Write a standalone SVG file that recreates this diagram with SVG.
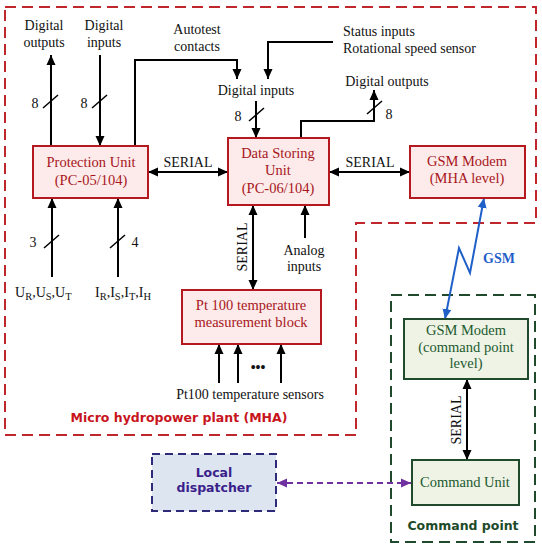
<svg xmlns="http://www.w3.org/2000/svg" width="542" height="550" viewBox="0 0 542 550">
<style>
.t{font-family:"Liberation Serif","Times New Roman",serif;font-size:14px;fill:#111}
.tb{font-family:"Liberation Serif",serif;font-size:14.5px;fill:#a8161c;text-anchor:middle}
.tg{font-family:"Liberation Serif",serif;font-size:14.5px;fill:#1d5a2e;text-anchor:middle}
.bold{font-family:"DejaVu Sans",Verdana,sans-serif;font-weight:bold;font-size:12.5px}
.rbox{fill:#fcebea;stroke:#b5191f;stroke-width:2}
.gbox{fill:#eef3e6;stroke:#1f4a2c;stroke-width:2}
.ln{fill:none;stroke:#000;stroke-width:2}
.sl{stroke:#000;stroke-width:1.5}
.m{text-anchor:middle}
</style>
<defs>
<marker id="ah" viewBox="0 0 10 10" refX="10" refY="5" markerWidth="10" markerHeight="10" orient="auto-start-reverse" markerUnits="userSpaceOnUse"><path d="M0,0.5 L10,5 L0,9.5 z" fill="#000"/></marker>
<marker id="ahb" viewBox="0 0 10 10" refX="10" refY="5" markerWidth="10" markerHeight="10" orient="auto-start-reverse" markerUnits="userSpaceOnUse"><path d="M0,0.5 L10,5 L0,9.5 z" fill="#1f5fc8"/></marker>
<marker id="ahp" viewBox="0 0 10 10" refX="10" refY="5" markerWidth="10" markerHeight="10" orient="auto-start-reverse" markerUnits="userSpaceOnUse"><path d="M0,0.5 L10,5 L0,9.5 z" fill="#7030a0"/></marker>
</defs>

<g id="mha-boundary">
<path d="M5,7 H536 V223 H356 V435 H5 Z" fill="none" stroke="#c0272d" stroke-width="2" stroke-dasharray="11,6"/>
<text x="179" y="422" class="bold m" fill="#c8141c">Micro hydropower plant (MHA)</text>
</g>

<g id="command-point-boundary">
<rect x="391" y="295" width="144" height="247" fill="none" stroke="#1f4a2c" stroke-width="2" stroke-dasharray="11,6"/>
<text x="463" y="530" class="bold m" fill="#1d4a28">Command point</text>
</g>

<g id="connectors">
<line x1="51" y1="146" x2="51" y2="55" class="ln" marker-end="url(#ah)"/>
<line x1="100" y1="55" x2="100" y2="146" class="ln" marker-end="url(#ah)"/>
<line x1="43" y1="108" x2="58" y2="95" class="sl"/>
<line x1="92" y1="108" x2="107" y2="95" class="sl"/>
<text x="35" y="108" class="t m">8</text>
<text x="84" y="108" class="t m">8</text>
<polyline points="135,146 135,60 237,60 237,79" class="ln" marker-end="url(#ah)"/>
<polyline points="333,42 268,42 268,79" class="ln" marker-end="url(#ah)"/>
<line x1="256" y1="101" x2="256" y2="138" class="ln" marker-end="url(#ah)"/>
<line x1="249" y1="121" x2="264" y2="108" class="sl"/>
<text x="238" y="121" class="t m">8</text>
<polyline points="301,138 301,121 374,121 374,90" class="ln" marker-end="url(#ah)"/>
<line x1="367" y1="114" x2="382" y2="101" class="sl"/>
<text x="389" y="119" class="t m">8</text>
<line x1="148" y1="172" x2="228" y2="172" class="ln" marker-start="url(#ah)" marker-end="url(#ah)"/>
<text x="188" y="167" class="t m">SERIAL</text>
<line x1="329" y1="172" x2="410" y2="172" class="ln" marker-start="url(#ah)" marker-end="url(#ah)"/>
<text x="370" y="167" class="t m">SERIAL</text>
<line x1="253" y1="205" x2="253" y2="290" class="ln" marker-start="url(#ah)" marker-end="url(#ah)"/>
<text transform="translate(247,247) rotate(-90)" class="t m">SERIAL</text>
<line x1="305" y1="238" x2="305" y2="205" class="ln" marker-end="url(#ah)"/>
<line x1="52" y1="277" x2="52" y2="198" class="ln" marker-end="url(#ah)"/>
<line x1="118" y1="277" x2="118" y2="198" class="ln" marker-end="url(#ah)"/>
<line x1="44" y1="248" x2="59" y2="235" class="sl"/>
<line x1="110" y1="248" x2="125" y2="235" class="sl"/>
<text x="33" y="247" class="t m">3</text>
<text x="135" y="247" class="t m">4</text>
<line x1="219" y1="383" x2="219" y2="344" class="ln" marker-end="url(#ah)"/>
<line x1="238" y1="383" x2="238" y2="344" class="ln" marker-end="url(#ah)"/>
<line x1="281" y1="383" x2="281" y2="344" class="ln" marker-end="url(#ah)"/>
<text x="258" y="372" class="t m" font-weight="bold">•••</text>
<polyline points="484,198 470,273 459,248 445,319" fill="none" stroke="#1f5fc8" stroke-width="2" marker-start="url(#ahb)" marker-end="url(#ahb)"/>
<text x="499" y="263" class="m" font-family="'Liberation Serif',serif" font-weight="bold" font-size="14" fill="#1f5fc8">GSM</text>
<line x1="467" y1="379" x2="467" y2="460" class="ln" marker-start="url(#ah)" marker-end="url(#ah)"/>
<text transform="translate(461,420) rotate(-90)" class="t m">SERIAL</text>
<line x1="277" y1="483" x2="411" y2="483" stroke="#7030a0" stroke-width="2" stroke-dasharray="6,4" marker-start="url(#ahp)" marker-end="url(#ahp)"/>
</g>

<g id="labels">
<text x="44" y="30" class="t m">Digital</text>
<text x="44" y="47" class="t m">outputs</text>
<text x="104" y="30" class="t m">Digital</text>
<text x="104" y="47" class="t m">inputs</text>
<text x="197" y="34" class="t m">Autotest</text>
<text x="197" y="51" class="t m">contacts</text>
<text x="343" y="36" class="t">Status inputs</text>
<text x="343" y="53" class="t">Rotational speed sensor</text>
<text x="256" y="95" class="t m">Digital inputs</text>
<text x="387" y="86" class="t m">Digital outputs</text>
<text x="304" y="255" class="t m">Analog</text>
<text x="304" y="271" class="t m">inputs</text>
<text x="15" y="297" class="t" font-size="15">U<tspan font-size="10.5" dy="3">R</tspan><tspan dy="-3">,U</tspan><tspan font-size="10.5" dy="3">S</tspan><tspan dy="-3">,U</tspan><tspan font-size="10.5" dy="3">T</tspan></text>
<text x="95" y="297" class="t" font-size="15">I<tspan font-size="10.5" dy="3">R</tspan><tspan dy="-3">,I</tspan><tspan font-size="10.5" dy="3">S</tspan><tspan dy="-3">,I</tspan><tspan font-size="10.5" dy="3">T</tspan><tspan dy="-3">,I</tspan><tspan font-size="10.5" dy="3">H</tspan></text>
<text x="250" y="399" class="t m">Pt100 temperature sensors</text>
</g>

<g id="protection-unit">
<rect x="33" y="146" width="115" height="52" class="rbox"/>
<text x="91" y="167" class="tb">Protection Unit</text>
<text x="91" y="185" class="tb">(PC-05/104)</text>
</g>

<g id="data-storing-unit">
<rect x="228" y="138" width="101" height="67" class="rbox"/>
<text x="278" y="158" class="tb">Data Storing</text>
<text x="278" y="175" class="tb">Unit</text>
<text x="278" y="193" class="tb">(PC-06/104)</text>
</g>

<g id="gsm-modem-mha">
<rect x="410" y="146" width="115" height="52" class="rbox"/>
<text x="467" y="166" class="tb">GSM Modem</text>
<text x="467" y="183" class="tb">(MHA level)</text>
</g>

<g id="pt100-block">
<rect x="182" y="290" width="139" height="54" class="rbox"/>
<text x="251" y="310" class="tb">Pt 100 temperature</text>
<text x="251" y="327" class="tb">measurement block</text>
</g>

<g id="gsm-modem-command">
<rect x="404" y="319" width="124" height="60" class="gbox"/>
<text x="466" y="335" class="tg">GSM Modem</text>
<text x="466" y="352" class="tg">(command point</text>
<text x="466" y="368" class="tg">level)</text>
</g>

<g id="command-unit">
<rect x="412" y="460" width="107" height="45" class="gbox"/>
<text x="465" y="487" class="tg">Command Unit</text>
</g>

<g id="local-dispatcher">
<rect x="152" y="454" width="124" height="57" fill="#dde5f1" stroke="#2e2a7a" stroke-width="2" stroke-dasharray="8,5"/>
<text x="214" y="477" class="bold m" fill="#3b1f8a">Local</text>
<text x="214" y="492" class="bold m" fill="#3b1f8a">dispatcher</text>
</g>
</svg>
